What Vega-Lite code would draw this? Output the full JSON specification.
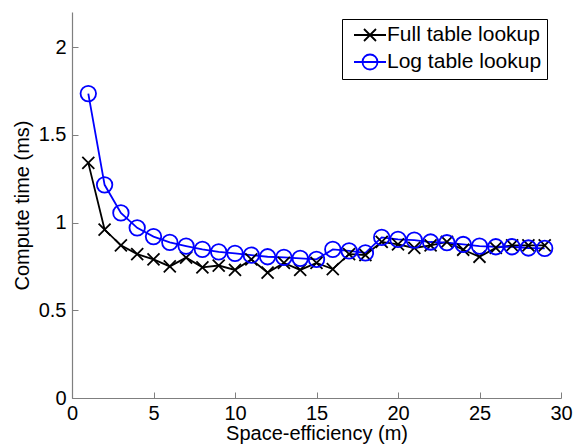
{
  "$schema": "https://vega.github.io/schema/vega-lite/v6.json",
  "width": 489,
  "height": 386,
  "autosize": "none",
  "padding": {"left": 72, "top": 12, "right": 13, "bottom": 47},
  "background": "white",
  "config": {
    "view": {"stroke": null},
    "font": "Liberation Sans",
    "axis": {
      "grid": false,
      "domainColor": "#7f7f7f",
      "tickColor": "#7f7f7f",
      "labelColor": "black",
      "titleColor": "black",
      "labelFont": "Liberation Sans",
      "titleFont": "Liberation Sans",
      "labelFontSize": 20,
      "titleFontSize": 20,
      "titleFontWeight": "normal",
      "tickSize": -6,
      "domainWidth": 1.2,
      "tickWidth": 1
    }
  },
  "data": {
    "values": [
      {"m": 1, "series": "Full table lookup", "t": 1.34},
      {"m": 2, "series": "Full table lookup", "t": 0.96},
      {"m": 3, "series": "Full table lookup", "t": 0.87},
      {"m": 4, "series": "Full table lookup", "t": 0.82},
      {"m": 5, "series": "Full table lookup", "t": 0.79},
      {"m": 6, "series": "Full table lookup", "t": 0.75},
      {"m": 7, "series": "Full table lookup", "t": 0.80},
      {"m": 8, "series": "Full table lookup", "t": 0.745},
      {"m": 9, "series": "Full table lookup", "t": 0.755},
      {"m": 10, "series": "Full table lookup", "t": 0.73},
      {"m": 11, "series": "Full table lookup", "t": 0.79},
      {"m": 12, "series": "Full table lookup", "t": 0.715},
      {"m": 13, "series": "Full table lookup", "t": 0.77},
      {"m": 14, "series": "Full table lookup", "t": 0.73},
      {"m": 15, "series": "Full table lookup", "t": 0.77},
      {"m": 16, "series": "Full table lookup", "t": 0.735},
      {"m": 17, "series": "Full table lookup", "t": 0.82},
      {"m": 18, "series": "Full table lookup", "t": 0.815},
      {"m": 19, "series": "Full table lookup", "t": 0.89},
      {"m": 20, "series": "Full table lookup", "t": 0.875},
      {"m": 21, "series": "Full table lookup", "t": 0.855},
      {"m": 22, "series": "Full table lookup", "t": 0.87},
      {"m": 23, "series": "Full table lookup", "t": 0.89},
      {"m": 24, "series": "Full table lookup", "t": 0.845},
      {"m": 25, "series": "Full table lookup", "t": 0.805},
      {"m": 26, "series": "Full table lookup", "t": 0.855},
      {"m": 27, "series": "Full table lookup", "t": 0.87},
      {"m": 28, "series": "Full table lookup", "t": 0.87},
      {"m": 29, "series": "Full table lookup", "t": 0.87},
      {"m": 1, "series": "Log table lookup", "t": 1.735},
      {"m": 2, "series": "Log table lookup", "t": 1.215},
      {"m": 3, "series": "Log table lookup", "t": 1.055},
      {"m": 4, "series": "Log table lookup", "t": 0.97},
      {"m": 5, "series": "Log table lookup", "t": 0.92},
      {"m": 6, "series": "Log table lookup", "t": 0.887},
      {"m": 7, "series": "Log table lookup", "t": 0.866},
      {"m": 8, "series": "Log table lookup", "t": 0.847},
      {"m": 9, "series": "Log table lookup", "t": 0.833},
      {"m": 10, "series": "Log table lookup", "t": 0.824},
      {"m": 11, "series": "Log table lookup", "t": 0.814},
      {"m": 12, "series": "Log table lookup", "t": 0.805},
      {"m": 13, "series": "Log table lookup", "t": 0.801},
      {"m": 14, "series": "Log table lookup", "t": 0.796},
      {"m": 15, "series": "Log table lookup", "t": 0.79},
      {"m": 16, "series": "Log table lookup", "t": 0.847},
      {"m": 17, "series": "Log table lookup", "t": 0.839},
      {"m": 18, "series": "Log table lookup", "t": 0.827},
      {"m": 19, "series": "Log table lookup", "t": 0.915},
      {"m": 20, "series": "Log table lookup", "t": 0.904},
      {"m": 21, "series": "Log table lookup", "t": 0.9},
      {"m": 22, "series": "Log table lookup", "t": 0.889},
      {"m": 23, "series": "Log table lookup", "t": 0.885},
      {"m": 24, "series": "Log table lookup", "t": 0.875},
      {"m": 25, "series": "Log table lookup", "t": 0.866},
      {"m": 26, "series": "Log table lookup", "t": 0.862},
      {"m": 27, "series": "Log table lookup", "t": 0.862},
      {"m": 28, "series": "Log table lookup", "t": 0.855},
      {"m": 29, "series": "Log table lookup", "t": 0.853}
    ]
  },
  "encoding": {
    "x": {
      "field": "m", "type": "quantitative",
      "scale": {"domain": [0, 30], "nice": false, "zero": false},
      "axis": {"title": "Space-efficiency (m)", "values": [0, 5, 10, 15, 20, 25, 30], "format": "~g", "labelPadding": 11, "titlePadding": 0, "labelFlush": false}
    },
    "y": {
      "field": "t", "type": "quantitative",
      "scale": {"domain": [0, 2.2], "nice": false},
      "axis": {"title": "Compute time (ms)", "values": [0, 0.5, 1, 1.5, 2], "format": "~g", "labelPadding": 12, "titlePadding": 6, "labelFlush": false}
    }
  },
  "layer": [
    {
      "mark": {"type": "point", "filled": false, "opacity": 0, "strokeWidth": 1.8},
      "encoding": {
        "color": {
          "field": "series", "type": "nominal",
          "scale": {"domain": ["Full table lookup", "Log table lookup"], "range": ["#000000", "#0000ff"]},
          "legend": {
            "title": null,
            "orient": "none",
            "legendX": 270,
            "legendY": 7,
            "strokeColor": "black",
            "fillColor": "white",
            "padding": 5,
            "symbolOffset": 12,
            "labelOffset": 6,
            "rowPadding": 5,
            "labelFontSize": 21,
            "labelFont": "Liberation Sans",
            "labelColor": "black",
            "symbolSize": 400,
            "symbolOpacity": 1,
            "symbolStrokeWidth": 1.8,
            "symbolFillColor": "transparent"
          }
        },
        "shape": {
          "field": "series", "type": "nominal",
          "scale": {"domain": ["Full table lookup", "Log table lookup"], "range": ["M-1.6,0H1.6M-0.6,-0.6L0.6,0.6M-0.6,0.6L0.6,-0.6", "M-1.6,0H1.6M0.75,0A0.75,0.75 0 1,1 -0.75,0A0.75,0.75 0 1,1 0.75,0"]},
          "legend": {"title": null}
        }
      }
    },
    {
      "mark": {"type": "line", "strokeWidth": 1.8},
      "encoding": {
        "detail": {"field": "series", "type": "nominal"},
        "color": {"condition": {"test": "datum.series == 'Log table lookup'", "value": "#0000ff"}, "value": "#000000"}
      }
    },
    {
      "mark": {"type": "point", "filled": false, "strokeWidth": 1.8, "opacity": 1},
      "encoding": {
        "color": {"condition": {"test": "datum.series == 'Log table lookup'", "value": "#0000ff"}, "value": "#000000"},
        "shape": {"condition": {"test": "datum.series == 'Log table lookup'", "value": "circle"}, "value": "M-1,-1L1,1M-1,1L1,-1"},
        "size": {"condition": {"test": "datum.series == 'Log table lookup'", "value": 240}, "value": 144}
      }
    }
  ]
}
